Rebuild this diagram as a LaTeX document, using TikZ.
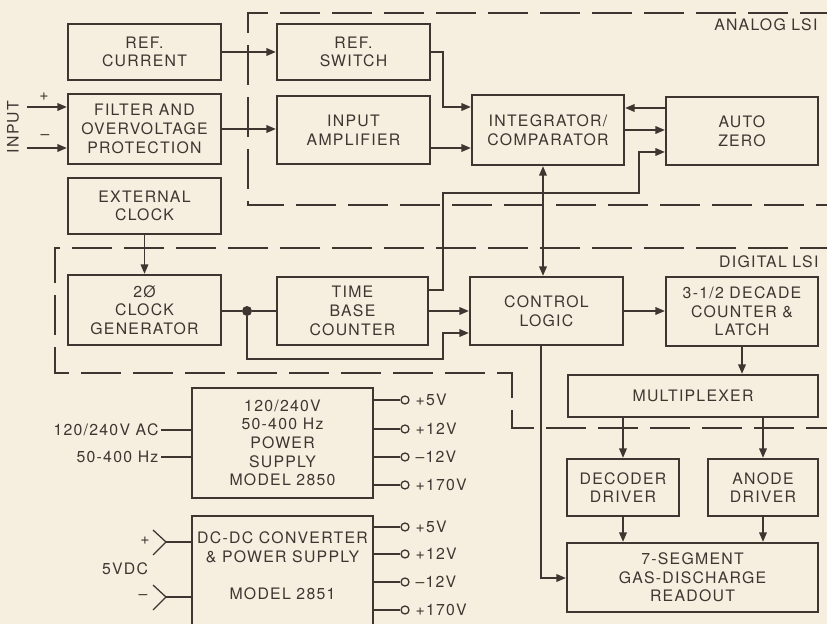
\documentclass[tikz,border=0pt]{standalone}
\usepackage{fontspec}
\setmainfont{TeX Gyre Heros}[LetterSpace=8]
\usetikzlibrary{arrows.meta}
\definecolor{paper}{RGB}{246,239,224}
\definecolor{ink}{RGB}{62,54,48}
\newcommand\lsifont{\fontsize{13.5}{15.9}\selectfont}
\tikzset{
  block/.style={
    rectangle, draw=ink, line width=2pt, text=ink,
    align=center, inner sep=0pt, font=\lsifont,
    minimum width=4.59cm, minimum height=1.68cm,
  },
  arrow/.style={-{Triangle[length=8pt,width=6.5pt]}, line width=1.1pt, ink},
  twoway/.style={{Triangle[length=8pt,width=6.5pt]}-{Triangle[length=8pt,width=6.5pt]}, line width=1.1pt, ink},
  wire/.style={line width=1.1pt, ink},
  lsiframe/.style={draw=ink, line width=1.3pt, dash pattern=on 1.2cm off 0.36cm},
  note/.style={text=ink, font=\lsifont, inner sep=2pt},
  term/.style={circle, draw=ink, line width=1.1pt, inner sep=0pt, minimum size=0.24cm},
  joint/.style={circle, fill=ink, inner sep=0pt, minimum size=0.3cm},
}

\begin{document}
\begin{tikzpicture}[x=0.03cm, y=-0.03cm]
  \path[use as bounding box, fill=paper] (0,0) rectangle (827,624);

  % LSI boundaries
  \draw[lsiframe] (840,13) -- (248,13) -- (248,205) -- (840,205);
  \draw[lsiframe] (840,248) -- (55,248) -- (55,373) -- (512,373) -- (512,428) -- (840,428);
  \node[note, anchor=east] (analoglbl) at (820,25) {ANALOG LSI};
  \node[note, anchor=east] (digitallbl) at (821,262) {DIGITAL LSI};

  % Input side
  \node[block] (refcur) at (144.5,52) {REF.\\CURRENT};
  \node[block, minimum height=2.1cm] (filter) at (144.5,129) {FILTER AND\\OVERVOLTAGE\\PROTECTION};
  \node[block] (extclk) at (144.5,206) {EXTERNAL\\CLOCK};

  % Analog LSI
  \node[block] (refsw) at (353.5,52) {REF.\\SWITCH};
  \node[block, minimum height=2.04cm] (inamp) at (353.5,130) {INPUT\\AMPLIFIER};
  \node[block, minimum width=4.56cm, minimum height=2.1cm] (integ) at (548,130) {INTEGRATOR/\\COMPARATOR};
  \node[block, minimum width=4.56cm, minimum height=2.04cm] (autozero) at (742,131) {AUTO\\ZERO};

  % Digital LSI
  \node[block, minimum height=2.1cm] (clkgen) at (144.5,310) {2Ø\\CLOCK\\GENERATOR};
  \node[block, minimum width=4.53cm, minimum height=2.04cm] (timebase) at (352.5,311) {TIME\\BASE\\COUNTER};
  \node[block, minimum height=2.04cm] (ctrl) at (546.5,311) {CONTROL\\LOGIC};
  \node[block, minimum width=4.56cm, minimum height=2.07cm] (counter) at (742,311.5) {3-1/2 DECADE\\COUNTER \&\\LATCH};
  \node[block, minimum width=7.5cm, minimum height=1.26cm] (mux) at (693,396) {MULTIPLEXER};

  % Display
  \node[block, minimum width=3.36cm, minimum height=1.71cm] (decdrv) at (623,487.5) {DECODER\\DRIVER};
  \node[block, minimum width=3.3cm, minimum height=1.71cm] (anodrv) at (763,487.5) {ANODE\\DRIVER};
  \node[block, minimum width=7.53cm, minimum height=2.07cm] (readout) at (692.5,577.5) {7-SEGMENT\\GAS-DISCHARGE\\READOUT};

  % Power supplies
  \node[block, minimum width=5.43cm, minimum height=3.3cm] (psac) at (282.5,443) {120/240V\\50-400 Hz\\POWER\\SUPPLY\\MODEL 2850};
  \node[block, minimum width=5.43cm, minimum height=3.6cm, anchor=north,
        label={[note, align=center, yshift=0.3cm]center:DC-DC CONVERTER\\\& POWER SUPPLY\\[15.9pt]MODEL 2851}]
        (psdc) at (282.5,515) {};

  % Input terminals
  \coordinate (inplus) at (27,107);
  \coordinate (inminus) at (27,148);
  \draw[arrow] (inplus) -- (inplus -| filter.west);
  \draw[arrow] (inminus) -- (inminus -| filter.west);
  \node[note] (pluslbl) at (44,97) {+};
  \node[note] (minuslbl) at (45,137) {--};
  \node[note, rotate=90] (inputlbl) at (13,127) {INPUT};

  % Analog paths
  \draw[arrow] (refcur) -- (refsw);
  \draw[arrow] (filter.east) -- (filter.east -| inamp.west);
  \draw[arrow] (refsw.east) -| (443,107) -- (integ.west |- 0,107);
  \draw[arrow] (inamp.east |- 0,148) -- (integ.west |- 0,148);
  \draw[arrow] (autozero.west |- 0,108) -- (integ.east |- 0,108);
  \draw[arrow] (integ.east |- 0,130) -- (autozero.west |- 0,130);
  \draw[arrow] (timebase.east |- 0,290) -| (443,193) -| (639,152) -- (autozero.west |- 0,152);
  \draw[twoway] (integ.south -| 543,0) -- (ctrl.north -| 543,0);

  % Digital paths
  \draw[arrow] (extclk) -- (clkgen);
  \node[joint] (split) at (247,311) {};
  \draw[wire] (clkgen.east |- split) -- (split) -- (timebase.west |- split);
  \draw[arrow] (split) |- (443,359) |- (ctrl.west |- 0,333);
  \draw[arrow] (timebase.east |- 0,311) -- (ctrl.west |- 0,311);
  \draw[arrow] (ctrl.east |- 0,311) -- (counter.west |- 0,311);
  \draw[arrow] (counter.south) -- (counter.south |- mux.north);
  \draw[arrow] (mux.south -| decdrv) -- (decdrv.north);
  \draw[arrow] (mux.south -| anodrv) -- (anodrv.north);
  \draw[arrow] (decdrv) -- (decdrv |- readout.north);
  \draw[arrow] (anodrv) -- (anodrv |- readout.north);
  \draw[arrow] (ctrl.south -| 541,0) |- (readout.west |- 0,578);

  % AC supply
  \node[note, anchor=east] (acin) at (161,430) {120/240V AC};
  \node[note, anchor=east] (hzin) at (161,457) {50-400 Hz};
  \draw[wire] (acin) -- (acin -| psac.west);
  \draw[wire] (hzin) -- (hzin -| psac.west);
  \foreach \y/\v [count=\i] in {400/+5V, 429/+12V, 457/--12V, 485/+170V} {
    \node[term] (acout\i) at (405,\y) {};
    \node[note, anchor=west] (acv\i) at ([xshift=0.1cm]acout\i.east) {\v};
    \draw[wire] (psac.east |- acout\i) -- (acout\i);
  }

  % DC supply
  \coordinate (dcplus) at (166,542);
  \coordinate (dcminus) at (166,597);
  \draw[wire] ([shift={(-13,-12)}]dcplus) -- (dcplus) -- ([shift={(-13,13)}]dcplus);
  \draw[wire] ([shift={(-13,-12)}]dcminus) -- (dcminus) -- ([shift={(-13,13)}]dcminus);
  \draw[wire] (dcplus) -- (dcplus -| psdc.west);
  \draw[wire] (dcminus) -- (dcminus -| psdc.west);
  \node[note] (dcpluslbl) at (145,541) {+};
  \node[note] (dcminuslbl) at (143,597) {--};
  \node[note] (dclbl) at (125,569) {5VDC};
  \foreach \y/\v [count=\i] in {527/+5V, 554/+12V, 582/--12V, 610/+170V} {
    \node[term] (dcout\i) at (405,\y) {};
    \node[note, anchor=west] (dcv\i) at ([xshift=0.1cm]dcout\i.east) {\v};
    \draw[wire] (psdc.east |- dcout\i) -- (dcout\i);
  }
\end{tikzpicture}
\end{document}
